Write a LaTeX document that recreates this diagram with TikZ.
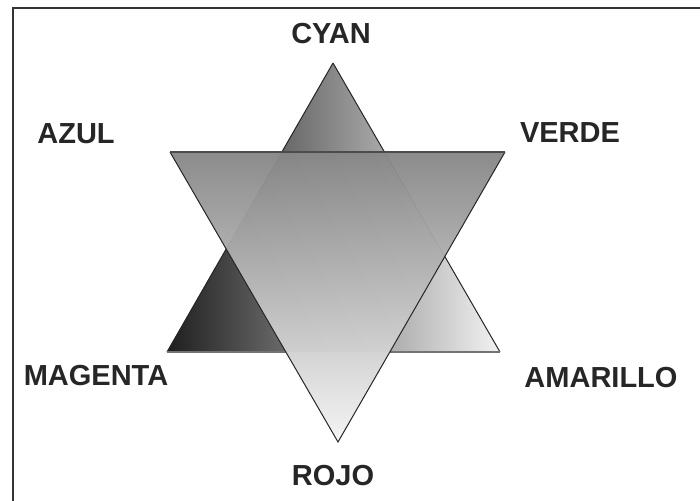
\documentclass[tikz,border=0pt]{standalone}
\usepackage{fontspec}
\setmainfont{Liberation Sans}
\begin{document}
\begin{tikzpicture}[x=1pt,y=-1pt,
  lbl/.style={font=\fontsize{29}{32}\selectfont\bfseries, text=black!85, inner sep=0pt},
  edge/.style={draw=black!85, line width=1pt, line join=miter},
  baseline/.style={draw=black!55, line width=2pt}]
\useasboundingbox (0,0) rectangle (700,500);
\fill[white] (0,0) rectangle (700,500);
% frame
\draw[black!80, line width=2pt] (13,502) -- (13,8) -- (702,8);
% upward triangle
\coordinate (u1) at (333,63);
\coordinate (u2) at (500,352);
\coordinate (u3) at (167,352);
\shade[left color=black!88, right color=black!5] (u1) -- (u2) -- (u3) -- cycle;
\draw[edge] (u1) -- (u2);
\draw[edge] (u1) -- (u3);
\draw[baseline] (u3) -- (286,352);
\draw[baseline] (390,352) -- (u2);
% downward triangle
\coordinate (d1) at (170,152);
\coordinate (d2) at (505,152);
\coordinate (d3) at (338,442);
\shade[top color=black!47, bottom color=black!4, fill opacity=0.96] (d1) -- (d2) -- (d3) -- cycle;
\draw[edge] (d1) -- (d3) -- (d2);
\draw[black!70, line width=1.6pt] (d1) -- (d2);
% labels
\node[lbl] (cyan) at (331,34) {CYAN};
\node[lbl] (azul) at (76,134) {AZUL};
\node[lbl] (verde) at (570,133) {VERDE};
\node[lbl] (magenta) at (96,376) {MAGENTA};
\node[lbl] (amarillo) at (601,378) {AMARILLO};
\node[lbl] (rojo) at (333,476) {ROJO};
\end{tikzpicture}
\end{document}
